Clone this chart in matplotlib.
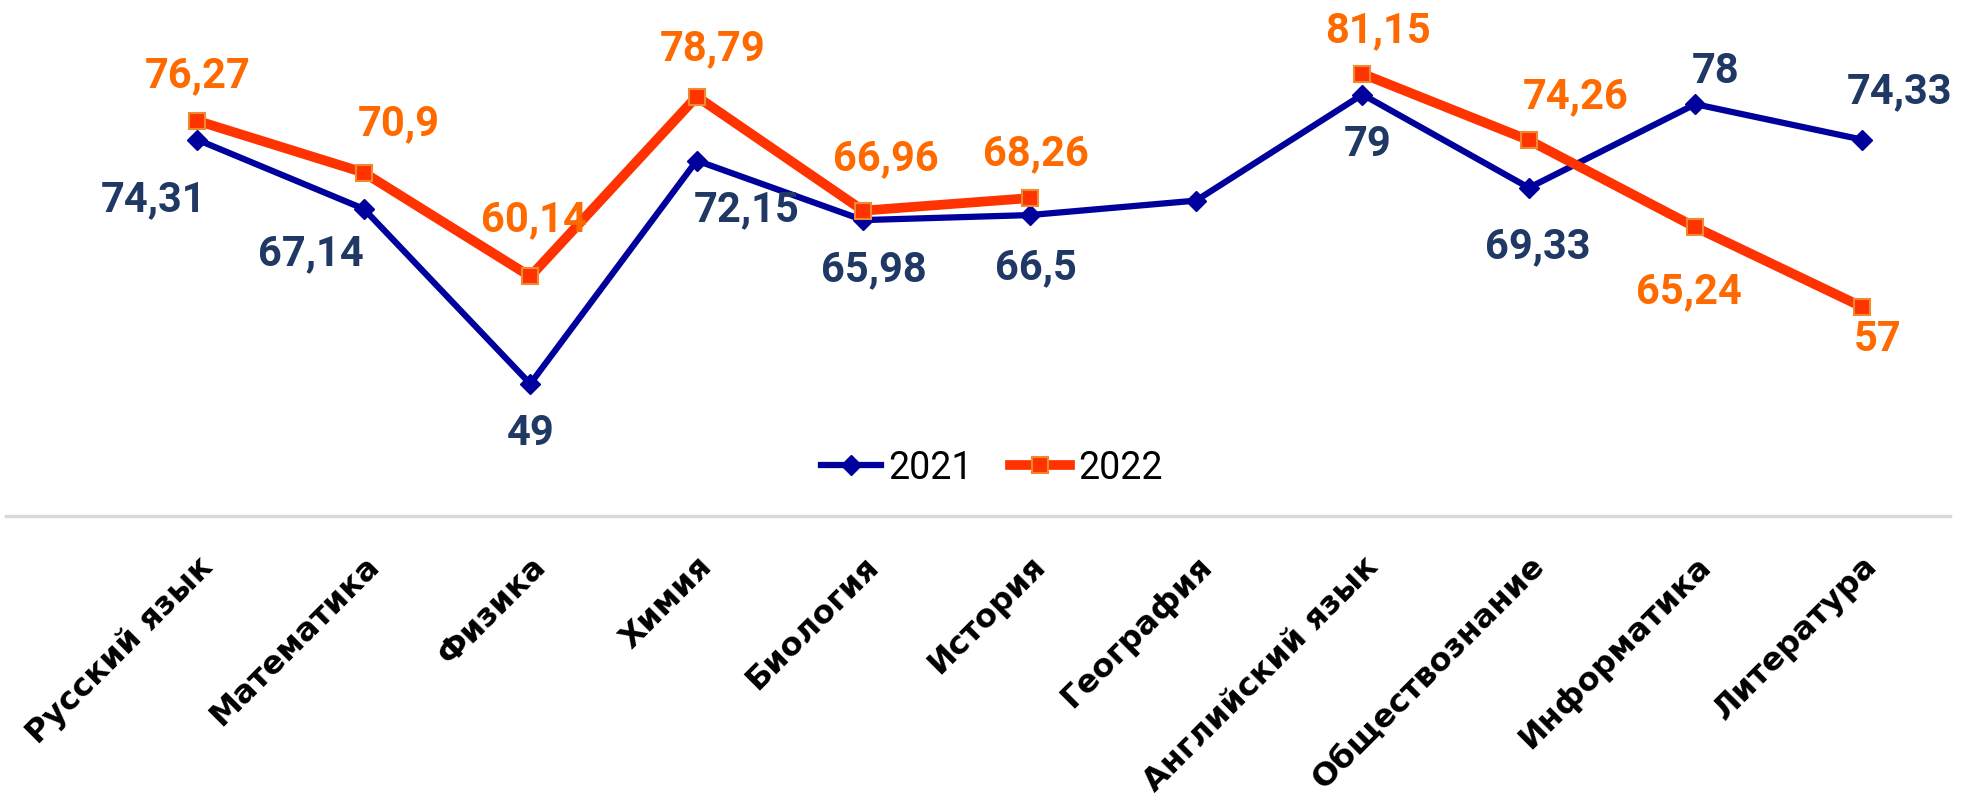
import matplotlib.pyplot as plt
import numpy as np

subjects = ["Русский язык", "Математика", "Физика", "Химия", "Биология", "История",
            "География", "Английский язык", "Обществознание", "Информатика", "Литература"]
scores_2021 = [74.31, 67.14, 49, 72.15, 65.98, 66.5, 68.0, 79, 69.33, 78, 74.33]
scores_2022 = [76.27, 70.9, 60.14, 78.79, 66.96, 68.26, np.nan, 81.15, 74.26, 65.24, 57]
labels_2021 = ["74,31", "67,14", "49", "72,15", "65,98", "66,5", None, "79", "69,33", "78", "74,33"]
labels_2022 = ["76,27", "70,9", "60,14", "78,79", "66,96", "68,26", None, "81,15", "74,26", "65,24", "57"]

# label offsets in pixels (dx, dy)
off_2021 = [(-44, -60), (-53, -45), (0, -50), (50, -49), (11, -50), (6, -53), None,
            (5, -50), (9, -59), (20, 33), (38, 48)]
off_2022 = [(0, 45), (35, 49), (4, 57), (16, 48), (23, 52), (6, 44), None,
            (16, 43), (47, 44), (-6, -64), (16, -33)]

NAVY_LINE = "#00009c"
NAVY_TEXT = "#1f3864"
RED_LINE = "#ff3300"
ORANGE_TEXT = "#ff6a00"
LABEL_FONT = ["Roboto", "DejaVu Sans"]

fig = plt.figure(figsize=(19.73, 8.05), dpi=100)
ax = fig.add_axes([6 / 1973, 1 - 516 / 805, 1944 / 1973, 516 / 805])

x = np.arange(len(subjects))
ax.plot(x, scores_2021, color=NAVY_LINE, lw=4.5, marker="D", ms=10,
        mfc=NAVY_LINE, mec=NAVY_LINE, label="2021", zorder=3)
ax.plot(x, scores_2022, color=RED_LINE, lw=7, marker="s", ms=12,
        mfc=RED_LINE, mec="#f08a30", mew=1.5, label="2022", zorder=4)

for xi, v, lab, off in zip(x, scores_2021, labels_2021, off_2021):
    if lab is None:
        continue
    ax.annotate(lab, (xi, v), xytext=off, textcoords="offset pixels",
                ha="center", va="center", fontsize=30, fontweight="bold",
                family=LABEL_FONT, color=NAVY_TEXT, zorder=5)
for xi, v, lab, off in zip(x, scores_2022, labels_2022, off_2022):
    if lab is None:
        continue
    ax.annotate(lab, (xi, v), xytext=off, textcoords="offset pixels",
                ha="center", va="center", fontsize=30, fontweight="bold",
                family=LABEL_FONT, color=ORANGE_TEXT, zorder=5)

ax.set_xlim(-1.15, 10.53)
ax.set_ylim(35.3, 88.8)
ax.set_xticks(x)
ax.set_xticklabels(subjects, rotation=45, ha="right", rotation_mode="anchor",
                   fontsize=23, fontweight="bold", color="black")
ax.tick_params(axis="x", length=0, pad=25)
ax.set_yticks([])
for side in ["left", "right", "top"]:
    ax.spines[side].set_visible(False)
ax.spines["bottom"].set_color("#d9d9d9")
ax.spines["bottom"].set_linewidth(2.5)

ax.legend(loc="center", bbox_to_anchor=(0.507, 0.093), ncol=2, frameon=False,
          prop={"family": LABEL_FONT, "size": 27}, handlelength=1.6,
          columnspacing=1.0, handletextpad=0.2)

fig.savefig("out.png", dpi=100)
